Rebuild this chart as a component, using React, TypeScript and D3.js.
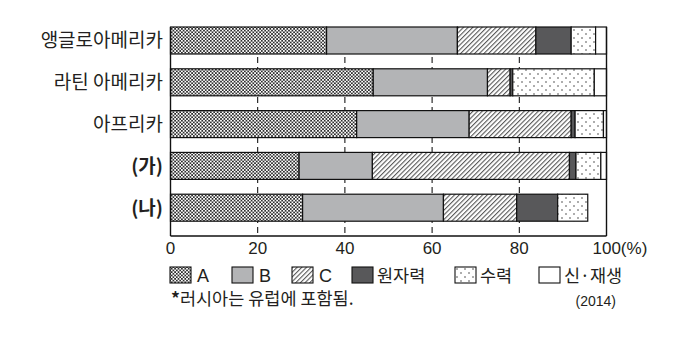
import React from "react";
import * as d3 from "d3";

// Electricity generation mix by region (%), 2014
const regions = ["앵글로아메리카", "라틴 아메리카", "아프리카", "(가)", "(나)"];
const boldRegions = ["(가)", "(나)"];
const sourceA = [35.8, 46.5, 42.7, 29.5, 30.3];
const sourceB = [30.0, 26.2, 25.8, 16.8, 32.3];
const sourceC = [18.0, 5.2, 23.4, 45.2, 16.8];
const nuclear = [8.1, 0.6, 0.9, 1.5, 9.4];
const hydro = [5.6, 18.7, 6.5, 5.7, 6.9];
const renewable = [2.5, 2.8, 0.7, 1.3, 0];

const seriesKeys = ["A", "B", "C", "nuclear", "hydro", "renewable"];
const legendLabels = ["A", "B", "C", "원자력", "수력", "신·재생"];
const xTicks = [0, 20, 40, 60, 80, 100];

const W = 678;
const H = 338;
const KR = "'Noto Sans CJK KR', 'Noto Sans', sans-serif";
const NUM = "'Liberation Sans', Arial, sans-serif";
const INK = "#231f20";

const fills: Record<string, string> = {
  A: "url(#pat-cross)",
  B: "#b3b4b6",
  C: "url(#pat-hatch)",
  nuclear: "#58585a",
  hydro: "url(#pat-dots)",
  renewable: "#ffffff",
};

export default function App() {
  const rows = regions.map((r, i) => ({
    region: r,
    A: sourceA[i],
    B: sourceB[i],
    C: sourceC[i],
    nuclear: nuclear[i],
    hydro: hydro[i],
    renewable: renewable[i],
  }));
  const stacked = d3.stack<any>().keys(seriesKeys)(rows);

  const x = d3.scaleLinear().domain([0, 100]).range([170.5, 606.5]);
  const y = d3
    .scaleBand<string>()
    .domain(regions)
    .range([27, 236])
    .paddingInner(0.354)
    .paddingOuter(0.177)
    .align(0);
  const bw = y.bandwidth();
  const [top, bottom] = [27, 236];

  const legendX = [170, 232, 292, 352, 455, 539];

  return (
    <svg
      width={W}
      height={H}
      style={{ position: "absolute", left: 0, top: 0, background: "#fff" }}
    >
      <defs>
        <pattern id="pat-cross" width={3.4} height={3.4} patternUnits="userSpaceOnUse">
          <rect width={3.4} height={3.4} fill="#fff" />
          <path d="M0,0L3.4,3.4M3.4,0L0,3.4" stroke="#2a2a2a" strokeWidth={0.85} />
        </pattern>
        <pattern
          id="pat-hatch"
          width={3.3}
          height={6}
          patternUnits="userSpaceOnUse"
          patternTransform="rotate(45)"
        >
          <rect width={3.3} height={6} fill="#fff" />
          <line x1={0.6} y1={0} x2={0.6} y2={6} stroke="#333" strokeWidth={0.9} />
        </pattern>
        <pattern id="pat-dots" width={8} height={8} patternUnits="userSpaceOnUse">
          <rect width={8} height={8} fill="#fff" />
          <circle cx={2} cy={2} r={0.75} fill="#333" />
          <circle cx={6} cy={6} r={0.75} fill="#333" />
        </pattern>
      </defs>

      {/* dashed gridlines */}
      {xTicks
        .filter((t) => t > 0 && t < 100)
        .map((t) => (
          <line
            key={t}
            x1={x(t)}
            x2={x(t)}
            y1={top}
            y2={bottom}
            stroke="#000"
            strokeWidth={1}
            strokeDasharray="6,4"
          />
        ))}

      {/* stacked bars */}
      {stacked.map((s) => (
        <g key={s.key}>
          {s.map((d) =>
            d[1] - d[0] > 0 ? (
              <rect
                key={d.data.region}
                x={x(d[0])}
                y={y(d.data.region)}
                width={x(d[1]) - x(d[0])}
                height={bw}
                fill={fills[s.key]}
                stroke="#111"
                strokeWidth={1.2}
              />
            ) : null
          )}
        </g>
      ))}

      {/* frame */}
      <line x1={x(0)} x2={x(0)} y1={top} y2={bottom} stroke="#111" strokeWidth={1.4} />
      <line x1={x(100)} x2={x(100)} y1={top} y2={bottom} stroke="#111" strokeWidth={1.4} />
      <line x1={x(0)} x2={x(100)} y1={bottom} y2={bottom} stroke="#111" strokeWidth={1.4} />

      {/* category labels */}
      {regions.map((r) => (
        <text
          key={r}
          x={163}
          y={(y(r) as number) + bw / 2}
          dy="0.36em"
          textAnchor="end"
          fontFamily={KR}
          fontSize={19}
          fontWeight={boldRegions.includes(r) ? 700 : 400}
          fill={INK}
        >
          {r}
        </text>
      ))}

      {/* x tick labels */}
      {xTicks.map((t) => (
        <text
          key={t}
          x={x(t)}
          y={254}
          textAnchor={t === 100 ? "start" : "middle"}
          dx={t === 100 ? -14 : 0}
          fontFamily={NUM}
          fontSize={17}
          fill={INK}
        >
          {t === 100 ? "100(%)" : t}
        </text>
      ))}

      {/* legend */}
      {seriesKeys.map((k, i) => (
        <g key={k} transform={`translate(${legendX[i]},267)`}>
          <rect width={21} height={16} fill={fills[k]} stroke="#111" strokeWidth={1.1} />
          <text
            x={i < 3 ? 27 : 25}
            y={15}
            fontFamily={i < 3 ? NUM : KR}
            fontSize={i < 3 ? 18 : 17.5}
            fill={INK}
          >
            {legendLabels[i]}
          </text>
        </g>
      ))}

      {/* footnote and year */}
      <text x={171} y={305} fontFamily={KR} fontSize={17.5} fill={INK}>
        <tspan fontWeight={700}>*</tspan>러시아는 유럽에 포함됨.
      </text>
      <text x={616} y={306} textAnchor="end" fontFamily={NUM} fontSize={14} fill={INK}>
        (2014)
      </text>
    </svg>
  );
}
